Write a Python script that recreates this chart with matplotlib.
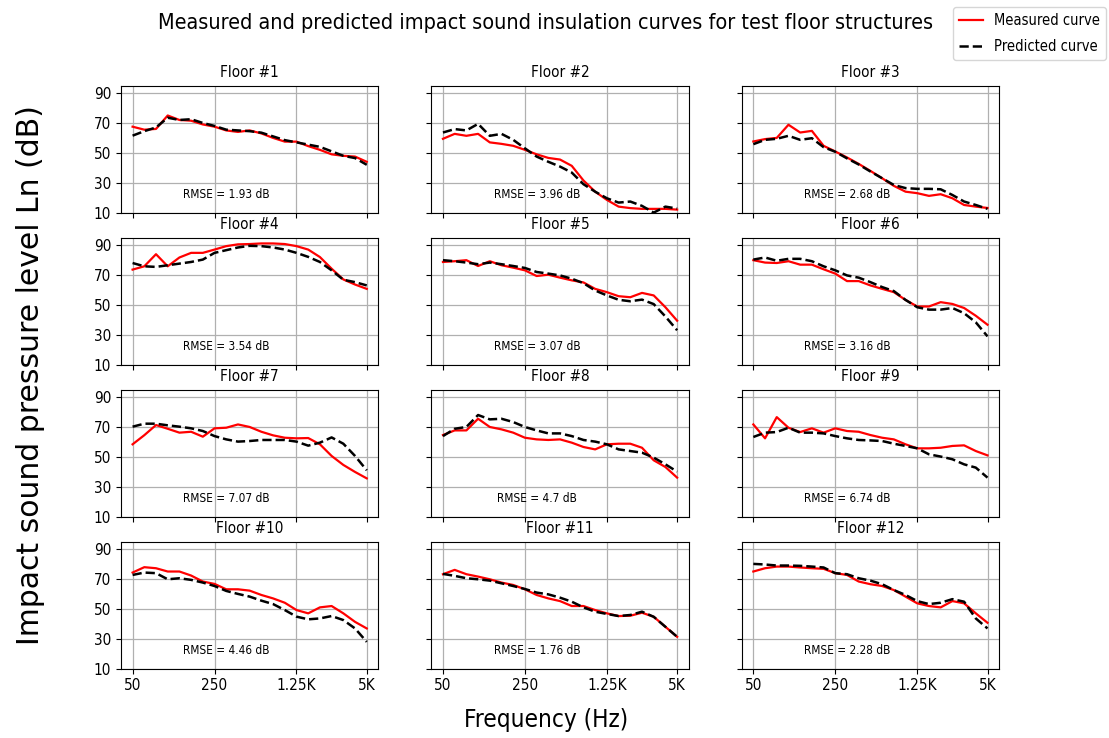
import numpy as np
import matplotlib
matplotlib.use("Agg")
import matplotlib.pyplot as plt
from matplotlib import font_manager

# narrow face for the chart text, if one is around
names = {f.name for f in font_manager.fontManager.ttflist}
stretches = {(f.name, f.stretch) for f in font_manager.fontManager.ttflist}
if ("DejaVu Sans", "condensed") in stretches or "DejaVu Sans Condensed" in names:
    NARROW = dict(family="DejaVu Sans", stretch="condensed")
elif "Liberation Sans Narrow" in names:
    NARROW = dict(family="Liberation Sans Narrow")
else:
    NARROW = dict(family="DejaVu Sans")
plt.rcParams["font.family"] = NARROW["family"]
if "stretch" in NARROW:
    plt.rcParams["font.stretch"] = NARROW["stretch"]

# third-octave band centres, 50 Hz .. 5 kHz
bands = [50, 63, 80, 100, 125, 160, 200, 250, 315, 400, 500, 630, 800,
         1000, 1250, 1600, 2000, 2500, 3150, 4000, 5000]
tick_bands = [50, 250, 1250, 5000]
tick_labels = ["50", "250", "1.25K", "5K"]

floors = ["Floor #%d" % i for i in range(1, 13)]
rmse = [1.93, 3.96, 2.68, 3.54, 3.07, 3.16, 7.07, 4.7, 6.74, 4.46, 1.76, 2.28]

measured = [
    [67.5, 65.5, 66, 75, 72, 71.5, 69, 67.5, 65, 64, 65, 63, 60, 57.5, 57.5, 54.5, 52, 49, 48, 47.5, 44],
    [59.4, 62.7, 61.4, 62.7, 57, 56, 54.7, 52, 49, 46.6, 45.5, 41.3, 31.5, 24, 18.5, 14, 13, 12.5, 12.5, 12.5, 12],
    [57.6, 59.2, 60, 68.8, 63.6, 64.7, 54.7, 50.9, 46.9, 42.6, 37.9, 33, 27.9, 24, 23, 21.2, 22.3, 19.6, 15.1, 14, 13.1],
    [73.6, 75.8, 83.9, 75.8, 81.7, 84.8, 84.8, 87, 89.3, 90.5, 90.7, 91.1, 91.1, 90.7, 89.3, 87, 82, 74.2, 67, 63.6, 60.7],
    [78.7, 79.2, 79.9, 76, 79.2, 76.5, 74.9, 73.1, 69.3, 70.2, 68.2, 66.4, 65, 60.7, 58.5, 55.8, 55.1, 58, 56.3, 48.4, 39.4],
    [79.9, 78.3, 78, 79.2, 76.9, 76.9, 73.8, 70.9, 65.9, 65.9, 63, 60.7, 58.5, 53.3, 48.9, 48.9, 51.8, 50.6, 47.9, 42.7, 36.7],
    [58.4, 64.5, 71.3, 68.8, 66.2, 66.8, 63.5, 69.1, 69.5, 71.7, 70, 66.8, 64.4, 62.8, 62.4, 62.6, 58.4, 50.6, 44.6, 39.9, 35.6],
    [64.6, 67.7, 67.7, 75.5, 70, 68.4, 66.2, 62.8, 61.7, 61.3, 61.7, 59.5, 56.6, 55, 58.4, 58.8, 58.8, 56.1, 47.7, 43.2, 36.1],
    [71.7, 62.4, 76.6, 69.5, 66.6, 69.1, 66.2, 69.1, 67.3, 66.8, 64.6, 62.8, 61.7, 58.4, 55.7, 55.7, 56.1, 57.3, 57.7, 53.9, 51],
    [74.3, 77.9, 77.2, 75, 75, 72.3, 68.3, 66.7, 63.1, 63.1, 62.2, 59.3, 57, 54.1, 49.2, 47, 51, 51.9, 47, 41.3, 36.9],
    [73.2, 76.1, 73.2, 71.6, 69.8, 67.6, 66, 63.1, 59.3, 57, 55.2, 51.9, 51.9, 49.2, 47, 45.2, 45.4, 47.4, 44.7, 38, 31.3],
    [75, 77.2, 78.3, 78.3, 77.7, 77.2, 76.8, 73.9, 72.7, 68.3, 66.5, 65.3, 62.6, 58.2, 53.7, 51.9, 51, 55.2, 53.7, 47, 40.7],
]
predicted = [
    [61.5, 64.5, 67, 73.5, 72, 72.5, 70, 68, 65.5, 65, 64.5, 63.5, 61, 58.5, 57, 55.5, 54, 51, 48, 46.5, 42],
    [63.6, 65.9, 65, 69.4, 61.4, 62.7, 58.7, 53, 47.5, 44, 40.8, 36.8, 29, 24, 19.6, 16.7, 17.4, 14.5, 10, 14, 12.7],
    [55.8, 58.7, 59.4, 61.4, 58.7, 59.8, 53.8, 50.7, 46.3, 42.2, 37.5, 33, 28.5, 26.4, 25.9, 25.9, 25.6, 21.8, 17.4, 15.1, 12.5],
    [78, 75.8, 75.4, 76.5, 77.6, 78.7, 80.3, 84.8, 86.6, 88.4, 89.5, 89.3, 88.4, 87, 84.8, 82.1, 78.7, 73.1, 66.8, 65.2, 63],
    [79.9, 79.2, 78.3, 77.2, 78.3, 77.2, 76, 74.7, 72, 70.9, 69.7, 67.5, 64.5, 59.6, 56.3, 53.4, 52.4, 53.5, 50.5, 42.2, 33],
    [80.3, 81.7, 79.5, 80.8, 80.8, 79.2, 75.8, 73.1, 69.7, 68.2, 65.2, 61.9, 59.2, 53.3, 48.4, 46.8, 46.8, 47.9, 44.4, 38.3, 28.9],
    [70.2, 72.2, 72.2, 71.1, 70.2, 69.1, 67.3, 63.9, 61.7, 60.2, 60.6, 61.3, 61.3, 61.3, 60.2, 57.5, 59.5, 63, 58.8, 50.6, 41],
    [63.9, 68.8, 70, 78, 75.1, 75.5, 73.3, 70, 67.7, 65.7, 65.7, 63.9, 61.3, 60.2, 58.4, 55, 53.9, 52.8, 49.5, 45, 40.1],
    [63.3, 66.2, 66.6, 69.5, 66.2, 66.2, 65.7, 63.9, 62.4, 61.3, 61, 60.6, 58.8, 57.3, 55.7, 51.7, 50.2, 48.4, 45, 42.8, 36.1],
    [72.7, 74.3, 73.9, 69.8, 70.5, 69.4, 67.6, 65.3, 62, 60, 58.2, 55.5, 53.2, 49.2, 44.8, 43, 43.6, 45.2, 42.5, 36.9, 27.9],
    [73.4, 72.1, 70.5, 69.8, 68.9, 67.1, 65.3, 63.3, 60.9, 59.7, 57.5, 54.8, 51, 48.1, 46.6, 45.2, 45.9, 48.1, 44.7, 38, 31.3],
    [80.1, 79.7, 79, 79, 78.8, 78.3, 77.7, 73.9, 73.2, 70.5, 68.9, 66.5, 62.6, 59.3, 55.2, 53.2, 54.1, 56.5, 54.8, 43.6, 36.9],
]

x = np.arange(len(bands))
xticks = [bands.index(b) for b in tick_bands]

fig, axes = plt.subplots(4, 3, sharex=True, sharey=True, figsize=(11.09, 7.38), dpi=100)
fig.subplots_adjust(left=0.109, right=0.901, top=0.884, bottom=0.094, wspace=0.205, hspace=0.197)

for i, ax in enumerate(axes.flat):
    l1, = ax.plot(x, measured[i], color="red", lw=1.6, label="Measured curve")
    l2, = ax.plot(x, predicted[i], color="black", ls="--", lw=1.8, label="Predicted curve")
    ax.set_title(floors[i], fontsize=11, pad=6)
    ax.text(0.41, 0.14, "RMSE = %s dB" % rmse[i], transform=ax.transAxes,
            ha="center", va="center", fontsize=8.5)
    ax.grid(True, color="#b0b0b0", lw=0.9)
    ax.set_ylim(10, 95)
    ax.set_yticks([10, 30, 50, 70, 90])
    ax.set_xticks(xticks)
    ax.set_xticklabels(tick_labels)
    ax.tick_params(labelsize=11)

fig.suptitle("Measured and predicted impact sound insulation curves for test floor structures",
             fontsize=15.5, x=0.492, y=0.982)
fig.legend([l1, l2], ["Measured curve", "Predicted curve"], loc="upper right",
           bbox_to_anchor=(1.004, 1.0), fontsize=10.5, handlelength=1.6,
           labelspacing=0.75)
fig.supxlabel("Frequency (Hz)", fontsize=17.5, x=0.492, y=0.008)
fig.supylabel("Impact sound pressure level Ln (dB)", fontsize=21.5, x=0.014, y=0.492,
              family="DejaVu Sans", stretch="normal")

fig.savefig("out.png", dpi=100)
